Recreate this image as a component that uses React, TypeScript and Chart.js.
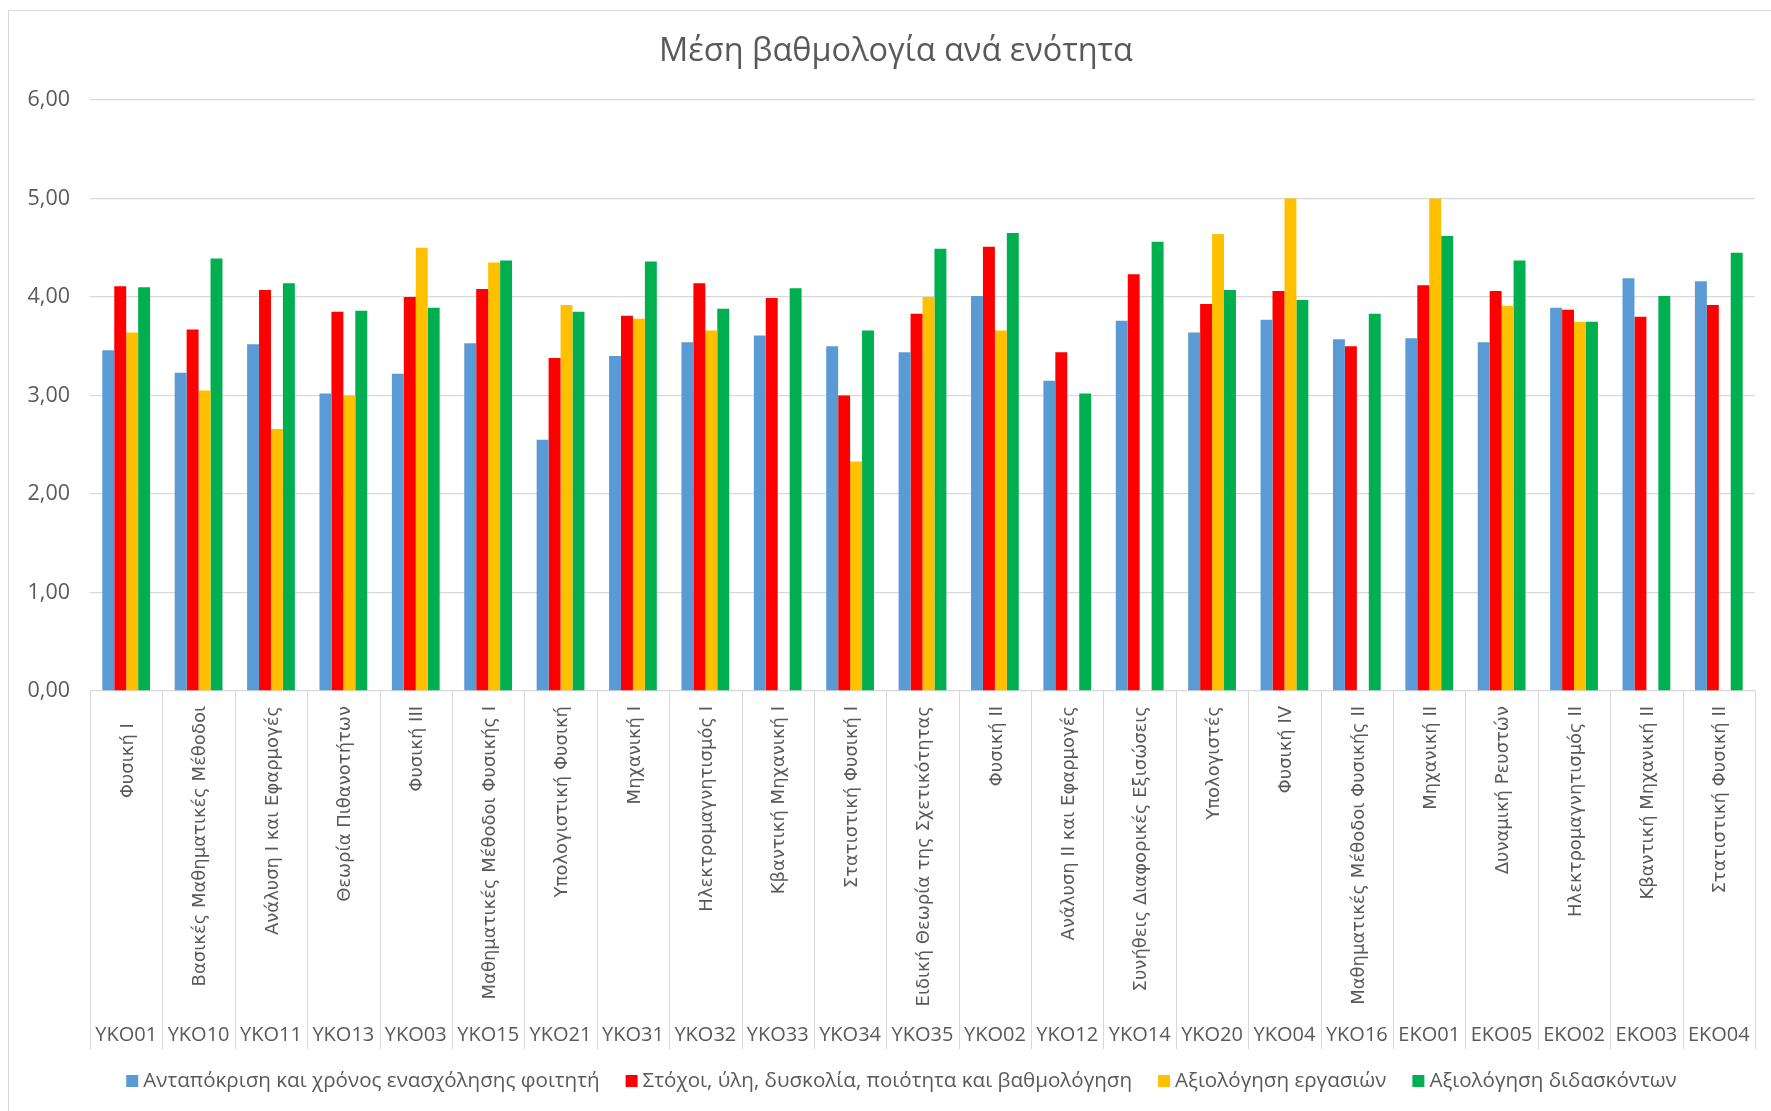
import React, { useEffect, useRef } from "react";
import { Chart, registerables } from "chart.js";

Chart.register(...registerables);

const chartTitle = "Μέση βαθμολογία ανά ενότητα";

const courseNames = [
  "Φυσική Ι   ",
  "Βασικές Μαθηματικές Μέθοδοι",
  "Ανάλυση Ι και Εφαρμογές",
  "Θεωρία Πιθανοτήτων",
  "Φυσική ΙΙΙ",
  "Μαθηματικές Μέθοδοι Φυσικής Ι",
  "Υπολογιστική Φυσική",
  "Μηχανική Ι",
  "Ηλεκτρομαγνητισμός Ι",
  "Κβαντική Μηχανική Ι",
  "Στατιστική Φυσική Ι",
  "Ειδική Θεωρία της Σχετικότητας",
  "Φυσική ΙΙ",
  "Ανάλυση ΙΙ και Εφαρμογές",
  "Συνήθεις Διαφορικές Εξισώσεις",
  "Υπολογιστές",
  "Φυσική IV",
  "Μαθηματικές Μέθοδοι Φυσικής ΙΙ",
  "Μηχανική ΙΙ",
  "Δυναμική Ρευστών",
  "Ηλεκτρομαγνητισμός ΙΙ",
  "Κβαντική Μηχανική ΙΙ",
  "Στατιστική Φυσική ΙΙ",
];

const courseCodes = [
  "YKO01", "YKO10", "YKO11", "YKO13", "YKO03", "YKO15", "YKO21", "YKO31",
  "YKO32", "YKO33", "YKO34", "YKO35", "YKO02", "YKO12", "YKO14", "YKO20",
  "YKO04", "YKO16", "EKO01", "EKO05", "EKO02", "EKO03", "EKO04",
];

const seriesNames = [
  "Ανταπόκριση και χρόνος ενασχόλησης φοιτητή",
  "Στόχοι, ύλη, δυσκολία, ποιότητα και βαθμολόγηση",
  "Αξιολόγηση εργασιών",
  "Αξιολόγηση διδασκόντων",
];

const studentResponse = [3.46, 3.23, 3.52, 3.02, 3.22, 3.53, 2.55, 3.40, 3.54, 3.61, 3.50, 3.44, 4.01, 3.15, 3.76, 3.64, 3.77, 3.57, 3.58, 3.54, 3.89, 4.19, 4.16];
const goalsMaterial = [4.11, 3.67, 4.07, 3.85, 4.00, 4.08, 3.38, 3.81, 4.14, 3.99, 3.00, 3.83, 4.51, 3.44, 4.23, 3.93, 4.06, 3.50, 4.12, 4.06, 3.87, 3.80, 3.92];
const assignments = [3.64, 3.05, 2.66, 3.00, 4.50, 4.35, 3.92, 3.78, 3.66, null, 2.33, 4.00, 3.66, null, null, 4.64, 5.00, null, 5.00, 3.91, 3.75, null, null];
const instructors = [4.10, 4.39, 4.14, 3.86, 3.89, 4.37, 3.85, 4.36, 3.88, 4.09, 3.66, 4.49, 4.65, 3.02, 4.56, 4.07, 3.97, 3.83, 4.62, 4.37, 3.75, 4.01, 4.45];

const seriesColors = ["#5B9BD5", "#FF0000", "#FFC000", "#00B050"];

const TEXT_COLOR = "#595959";
const LINE_COLOR = "#d9d9d9";
const CANVAS_W = 1774;
const CANVAS_H = 1100;

const twoLevelAxisPlugin = {
  id: "twoLevelAxis",
  afterDraw(chart: any) {
    const { ctx, chartArea, scales } = chart;
    const xs = scales.x;
    const n = chart.data.labels.length;
    const step = xs.getPixelForValue(1) - xs.getPixelForValue(0);
    const bottom = chartArea.bottom;
    ctx.save();
    // separators
    ctx.strokeStyle = LINE_COLOR;
    ctx.lineWidth = 1;
    for (let i = 0; i <= n; i++) {
      const px = Math.round(xs.getPixelForValue(i) - step / 2) + 0.5;
      ctx.beginPath();
      ctx.moveTo(px, bottom);
      ctx.lineTo(px, bottom + 358);
      ctx.stroke();
    }
    // rotated course names
    ctx.fillStyle = TEXT_COLOR;
    ctx.font = '18px "DejaVu Sans"';
    for (let i = 0; i < n; i++) {
      const cx = xs.getPixelForValue(i);
      ctx.save();
      ctx.translate(cx + 2, bottom + 15);
      ctx.rotate(-Math.PI / 2);
      ctx.textAlign = "right";
      ctx.textBaseline = "middle";
      ctx.fillText(courseNames[i], 0, 0);
      ctx.restore();
    }
    // codes
    ctx.font = '20px "Open Sans"';
    ctx.textAlign = "center";
    ctx.textBaseline = "middle";
    for (let i = 0; i < n; i++) {
      const cx = xs.getPixelForValue(i);
      ctx.fillText(courseCodes[i], cx, bottom + 344);
    }
    // legend
    const ds = chart.data.datasets;
    ctx.font = '20.6px "Open Sans"';
    const box = 12;
    const gapBox = 5;
    const gapItem = 26;
    const widths = ds.map((d: any) => ctx.measureText(d.label).width);
    const total = widths.reduce((a: number, w: number) => a + box + gapBox + w, 0) + gapItem * (ds.length - 1);
    let x = 892.5 - total / 2;
    const ly = 1070;
    ctx.textAlign = "left";
    ctx.textBaseline = "middle";
    ds.forEach((d: any, i: number) => {
      ctx.fillStyle = d.backgroundColor;
      ctx.fillRect(x, ly - box / 2, box, box);
      x += box + gapBox;
      ctx.fillStyle = TEXT_COLOR;
      ctx.fillText(d.label, x, ly);
      x += widths[i] + gapItem;
    });
    ctx.restore();
  },
};

export default function App() {
  const canvasRef = useRef<HTMLCanvasElement | null>(null);

  useEffect(() => {
    if (!canvasRef.current) return;
    const values = [studentResponse, goalsMaterial, assignments, instructors];
    const chart = new Chart(canvasRef.current, {
      type: "bar",
      data: {
        labels: courseCodes.map((c, i) => [courseNames[i], c]),
        datasets: values.map((v, i) => ({
          label: seriesNames[i],
          data: v,
          backgroundColor: seriesColors[i],
          borderWidth: 0,
          categoryPercentage: 0.66,
          barPercentage: 1.0,
        })),
      },
      options: {
        responsive: false,
        animation: false,
        devicePixelRatio: 1,
        layout: { padding: { left: 0, right: 0, top: 0, bottom: 0 } },
        plugins: {
          legend: { display: false },
          tooltip: { enabled: false },
          title: {
            display: true,
            text: chartTitle,
            color: TEXT_COLOR,
            font: { family: "Open Sans", size: 32.5, weight: "normal" },
            padding: { top: 21, bottom: 29 },
          },
        },
        scales: {
          x: {
            offset: true,
            grid: { display: false },
            border: { display: false },
            ticks: { display: false },
            afterFit: (s: any) => {
              s.height = 420;
            },
          },
          y: {
            min: 0,
            max: 6,
            ticks: {
              stepSize: 1,
              color: TEXT_COLOR,
              padding: 20,
              font: { family: "Open Sans", size: 21.5 },
              callback: (v: any) => Number(v).toFixed(2).replace(".", ","),
            },
            grid: { color: LINE_COLOR, drawTicks: false, lineWidth: 1.3 },
            border: { display: false },
            afterFit: (s: any) => {
              s.width = 81;
            },
          },
          yRight: {
            position: "right",
            display: true,
            grid: { display: false },
            border: { display: false },
            ticks: { display: false },
            afterFit: (s: any) => {
              s.width = 28;
            },
          },
        },
      },
      plugins: [twoLevelAxisPlugin],
    });
    return () => chart.destroy();
  }, []);

  return (
    <div
      style={{
        position: "absolute",
        left: 8,
        top: 10,
        width: 1763,
        height: 1101,
        overflow: "hidden",
        borderLeft: `1px solid ${LINE_COLOR}`,
        borderTop: `1px solid ${LINE_COLOR}`,
        boxSizing: "border-box",
        background: "#fff",
      }}
    >
      <canvas
        ref={canvasRef}
        width={CANVAS_W}
        height={CANVAS_H}
        style={{ width: CANVAS_W, height: CANVAS_H, display: "block" }}
      />
    </div>
  );
}
